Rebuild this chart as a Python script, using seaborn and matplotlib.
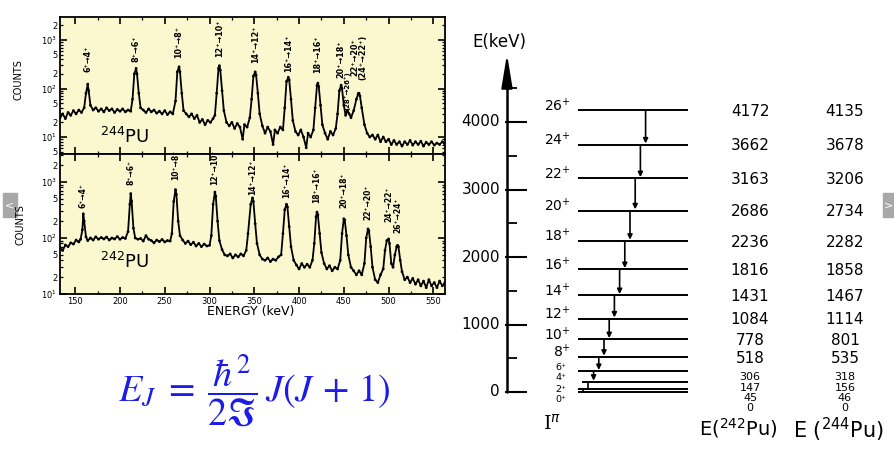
import numpy as np
import pandas as pd
import seaborn as sns
import matplotlib.pyplot as plt
from matplotlib.ticker import LogLocator, FuncFormatter, MultipleLocator
from matplotlib.patches import Rectangle

sns.set_style("ticks")
plt.rcParams["font.family"] = ["DejaVu Sans"]
plt.rcParams["text.color"] = "black"
plt.rcParams["axes.labelcolor"] = "black"
plt.rcParams["xtick.color"] = "black"
plt.rcParams["ytick.color"] = "black"
plt.rcParams["axes.edgecolor"] = "black"

# ---------------- data ----------------
# gamma spectrum of 244Pu (energy keV, counts)
spec244 = [
    (133, 25), (136, 30), (139, 24), (142, 32), (145, 28), (148, 35), (151, 30), (154, 36),
    (157, 32), (160, 40), (162, 80), (164, 123), (165, 90), (167, 45), (170, 36), (173, 40),
    (176, 34), (179, 38), (182, 33), (185, 40), (188, 35), (191, 38), (194, 32), (197, 37),
    (200, 34), (203, 38), (206, 33), (209, 36), (212, 34), (214, 60), (216, 200), (218, 260),
    (219, 200), (221, 80), (223, 40), (226, 36), (229, 32), (232, 38), (235, 33), (238, 36),
    (241, 31), (244, 34), (247, 30), (250, 35), (253, 29), (256, 33), (259, 30), (262, 55),
    (264, 220), (266, 280), (267, 220), (269, 80), (271, 35), (274, 30), (277, 26), (280, 30),
    (283, 24), (286, 28), (289, 20), (292, 23), (295, 18), (298, 22), (301, 20), (304, 24),
    (306, 28), (308, 80), (310, 260), (311, 295), (312, 240), (314, 90), (316, 35), (319, 20),
    (322, 17), (325, 20), (328, 15), (331, 19), (334, 16), (337, 9), (339, 18), (342, 16),
    (345, 25), (347, 60), (349, 180), (351, 220), (352, 190), (354, 80), (356, 30), (359, 17),
    (362, 12), (365, 16), (368, 13), (371, 7), (373, 14), (376, 12), (379, 16), (382, 14),
    (384, 40), (386, 140), (388, 170), (389, 150), (391, 60), (393, 22), (396, 13), (399, 11),
    (402, 14), (405, 10), (408, 6), (410, 12), (413, 10), (416, 14), (418, 40), (420, 115),
    (421, 129), (422, 110), (424, 45), (426, 18), (429, 12), (432, 9), (435, 13), (438, 11),
    (441, 15), (443, 30), (445, 90), (447, 117), (448, 100), (450, 45), (452, 28), (454, 35),
    (456, 30), (458, 25), (461, 35), (464, 60), (466, 78), (467, 80), (468, 70), (470, 40),
    (473, 18), (476, 12), (479, 10), (482, 11), (485, 9), (488, 11), (491, 8), (494, 10),
    (497, 8), (500, 9), (503, 7), (506, 8.5), (509, 7), (512, 8), (515, 6.5), (518, 8),
    (521, 7), (524, 8.5), (527, 6.8), (530, 8), (533, 7), (536, 8.2), (539, 6.5), (542, 7.8),
    (545, 7), (548, 8), (551, 6.8), (554, 7.5), (557, 7), (560, 8), (563, 7), (565, 7.5),
]

# gamma spectrum of 242Pu (energy keV, counts)
spec242 = [
    (133, 68), (136, 60), (139, 75), (142, 70), (145, 82), (148, 78), (151, 92), (154, 85),
    (156, 95), (158, 140), (159, 270), (160, 200), (162, 105), (164, 90), (167, 100), (170, 92),
    (173, 105), (176, 95), (179, 102), (182, 96), (185, 104), (188, 92), (191, 100), (194, 96),
    (197, 106), (200, 95), (203, 102), (206, 98), (209, 130), (211, 400), (212, 620), (213, 450),
    (215, 150), (217, 100), (220, 95), (223, 98), (226, 88), (229, 110), (232, 95), (235, 90),
    (238, 82), (241, 92), (244, 86), (247, 94), (250, 85), (253, 90), (256, 88), (258, 120),
    (260, 450), (262, 730), (263, 600), (265, 200), (267, 110), (270, 92), (273, 80), (276, 88),
    (279, 76), (282, 84), (285, 72), (288, 80), (291, 70), (294, 78), (297, 72), (300, 74),
    (302, 110), (304, 400), (306, 660), (307, 560), (309, 200), (311, 90), (314, 62), (317, 50),
    (320, 48), (323, 52), (326, 44), (329, 50), (332, 46), (335, 52), (338, 48), (341, 60),
    (343, 120), (346, 400), (348, 520), (349, 450), (351, 180), (353, 80), (356, 50), (359, 42),
    (362, 40), (365, 44), (368, 38), (371, 42), (374, 40), (377, 46), (380, 50), (382, 120),
    (384, 320), (386, 400), (387, 360), (389, 160), (391, 70), (394, 40), (397, 33), (400, 28),
    (403, 35), (406, 30), (409, 34), (412, 30), (415, 40), (417, 80), (419, 240), (420, 290),
    (421, 260), (423, 120), (425, 55), (428, 35), (431, 28), (434, 32), (437, 26), (440, 30),
    (443, 28), (446, 40), (448, 120), (450, 220), (451, 210), (453, 110), (455, 50), (458, 30),
    (461, 26), (464, 22), (467, 26), (470, 22), (473, 35), (475, 100), (477, 145), (478, 135),
    (480, 70), (482, 30), (485, 18), (488, 16), (491, 22), (494, 28), (496, 60), (498, 90),
    (500, 96), (501, 80), (503, 35), (505, 30), (507, 50), (509, 70), (510, 74), (511, 70),
    (513, 40), (515, 25), (518, 18), (521, 20), (524, 16), (527, 19), (530, 15), (533, 18),
    (536, 14), (539, 17), (542, 13), (545, 18), (548, 14), (551, 16), (554, 13), (557, 17),
    (560, 14), (563, 16), (565, 13),
]

peaks244_e = [164, 218, 266, 311, 351, 388, 421, 447, 454, 467]
labels244 = ["6⁺→4⁺", "8⁺→6⁺", "10⁺→8⁺", "12⁺→10⁺", "14⁺→12⁺", "16⁺→14⁺",
             "18⁺→16⁺", "20⁺→18⁺", "(28⁺→26⁺)", "22⁺→20⁺\n(24⁺→22⁺)"]

peaks242_e = [159, 212, 262, 306, 348, 386, 420, 450, 477, 500, 510]
labels242 = ["6⁺→4⁺", "8⁺→6⁺", "10⁺→8⁺", "12⁺→10⁺", "14⁺→12⁺", "16⁺→14⁺",
             "18⁺→16⁺", "20⁺→18⁺", "22⁺→20⁺", "24⁺→22⁺", "26⁺→24⁺"]

energy_ticks = [150, 200, 250, 300, 350, 400, 450, 500, 550]

# rotational band levels
spins = [0, 2, 4, 6, 8, 10, 12, 14, 16, 18, 20, 22, 24, 26]
levels242 = [0, 45, 147, 306, 518, 778, 1084, 1431, 1816, 2236, 2686, 3163, 3662, 4172]
levels244 = [0, 46, 156, 318, 535, 801, 1114, 1467, 1858, 2282, 2734, 3206, 3678, 4135]
scale_ticks = [0, 1000, 2000, 3000, 4000]
scale_minor = [500, 1500, 2500, 3500, 4500]

# ---------------- layout (pixels of the 895x449 canvas) ----------------
W, H = 895, 449
def fx(x): return x / W
def fy(y): return 1 - y / H
def e_of_px(y): return (392 - y) / 0.0675

# bottom edge (pixel row) of each peak label
label_px244 = [72, 62, 58, 57, 63, 72, 73, 78, 110, 80]
label_px242 = [208, 185, 180, 185, 195, 198, 203, 208, 220, 222, 233]
def counts_top(y): return 10 ** (3 - (y - 40) / 48.5)
def counts_bot(y): return 10 ** (3 - (y - 182) / 56)

fig = plt.figure(figsize=(8.95, 4.49), dpi=100)
fig.patch.set_facecolor("white")

def yfmt(v, pos):
    ex = np.log10(v)
    if abs(ex - round(ex)) < 1e-6:
        return "10$^{%d}$" % round(ex)
    m = int(round(v / 10 ** np.floor(ex)))
    return str(m) if m in (2, 5) else ""

def spectrum_axes(rect, df, ylim, show_x):
    ax = fig.add_axes(rect)
    ax.set_facecolor("#fbf8d0")
    sns.lineplot(data=df, x="energy", y="counts", ax=ax, color="black", lw=1.3)
    sns.scatterplot(data=df, x="energy", y="counts", ax=ax, color="black", s=4,
                    edgecolor="none")
    ax.set_yscale("log")
    ax.set_xlim(133, 563)
    ax.set_ylim(*ylim)
    ax.yaxis.set_major_locator(LogLocator(base=10))
    ax.yaxis.set_minor_locator(LogLocator(base=10, subs=range(2, 10)))
    ax.yaxis.set_major_formatter(FuncFormatter(yfmt))
    ax.yaxis.set_minor_formatter(FuncFormatter(yfmt))
    ax.xaxis.set_minor_locator(MultipleLocator(25))
    ax.set_xticks(energy_ticks)
    ax.tick_params(which="both", direction="in", top=True, right=True, labelsize=6,
                   pad=2)
    ax.tick_params(which="major", length=5, width=1.2)
    ax.tick_params(which="minor", length=2.5, width=0.9)
    if not show_x:
        ax.tick_params(labelbottom=False)
    ax.set_xlabel("")
    ax.set_ylabel("")
    for s in ax.spines.values():
        s.set_linewidth(1.3)
    return ax

df244 = pd.DataFrame(spec244, columns=["energy", "counts"])
df242 = pd.DataFrame(spec242, columns=["energy", "counts"])

ax1 = spectrum_axes([fx(60), fy(154), fx(385), 137 / H], df244,
                    (counts_top(154), counts_top(17)), False)
ax2 = spectrum_axes([fx(60), fy(294), fx(385), 140 / H], df242,
                    (counts_bot(294), counts_bot(154)), True)

for e, y, lab in zip(peaks244_e, label_px244, labels244):
    small = lab.startswith("(")
    ax1.text(e, counts_top(y), lab, rotation=90, ha="center", va="bottom",
             fontsize=5 if small else 5.8, fontweight="bold", linespacing=0.95)
for e, y, lab in zip(peaks242_e, label_px242, labels242):
    ax2.text(e, counts_bot(y), lab, rotation=90, ha="center", va="bottom",
             fontsize=5.5, fontweight="bold")

ax1.text(178, counts_top(147), "$^{244}$PU", fontsize=13, va="bottom", ha="left")
ax2.text(178, counts_bot(272), "$^{242}$PU", fontsize=13, va="bottom", ha="left")

fig.text(fx(19), fy(80), "COUNTS", rotation=90, ha="center", va="center", fontsize=7)
fig.text(fx(21), fy(225), "COUNTS", rotation=90, ha="center", va="center", fontsize=7)
fig.text(fx(251), fy(312), "ENERGY (keV)", ha="center", va="center", fontsize=9)

# formula
fig.text(fx(254), fy(391), r"$E_J\;=\;\dfrac{\hbar^2}{2\Im}\,J(J\,+\,1)$", ha="center",
         va="center", fontsize=27.5, color="#1c1ce8", math_fontfamily="stix")

# ---------------- level scheme ----------------
ax3 = fig.add_axes([fx(450), 0, 445 / W, 1])
ax3.set_xlim(450, 895)
ax3.set_ylim(e_of_px(449), e_of_px(0))
ax3.axis("off")

ax3.plot([507, 507], [0, e_of_px(75)], color="black", lw=1.8)
ax3.annotate("", xy=(507, e_of_px(54)), xytext=(507, e_of_px(82)),
             arrowprops=dict(arrowstyle="-|>,head_length=1.7,head_width=0.28",
                             mutation_scale=12, color="black", lw=1.5,
                             shrinkA=0, shrinkB=0))
ax3.hlines(scale_ticks, 505, 527, color="black", lw=1.5)
ax3.hlines(scale_minor, 507, 517, color="black", lw=1.3)
for t in scale_ticks:
    ax3.text(500, t, str(t), ha="right", va="center", fontsize=11)
ax3.text(499, e_of_px(42), "E(keV)", ha="center", va="center", fontsize=12)

low_spin_px = {0: 400, 2: 389, 4: 378, 6: 367}
low_value_px = {0: 408, 2: 398, 4: 388, 6: 377}
for s, l242, l244 in zip(spins, levels242, levels244):
    x0 = 582 if s == 4 else 578
    ax3.hlines(l242, x0, 688, color="black", lw=1.4)
    ypx = 392 - l242 * 0.0675
    spy = low_spin_px.get(s, ypx - 5)
    vpy = low_value_px.get(s, ypx + 1)
    low = s in low_value_px
    if low:
        ax3.text(566, e_of_px(spy), f"{s}⁺", ha="right", va="center", fontsize=6.8)
    else:
        ax3.text(571, e_of_px(spy), f"{s}$^{{+}}$", ha="right", va="center",
                 fontsize=10)
    ax3.text(750, e_of_px(vpy), str(l242), ha="center", va="center",
             fontsize=8 if low else 11)
    ax3.text(845, e_of_px(vpy), str(l244), ha="center", va="center",
             fontsize=8 if low else 11)

for i in range(1, len(spins)):
    x = 578 + spins[i] * 2.6
    if spins[i] >= 6:
        ax3.annotate("", xy=(x, levels242[i - 1]), xytext=(x, levels242[i]),
                     arrowprops=dict(arrowstyle="-|>", mutation_scale=7,
                                     color="black", lw=1.2, shrinkA=0, shrinkB=1))
    else:
        ax3.plot([x, x], [levels242[i - 1], levels242[i]], color="black", lw=1.2)

ax3.text(552, e_of_px(424), r"I$^{\pi}$", ha="center", va="center", fontsize=14,
         family="DejaVu Serif")
ax3.text(738, e_of_px(428), "E($^{242}$Pu)", ha="center", va="center", fontsize=14)
ax3.text(838, e_of_px(430), "E ($^{244}$Pu)", ha="center", va="center", fontsize=15)

# slide navigation buttons
fig.patches.append(Rectangle((fx(3), fy(217)), 14 / W, 24 / H, transform=fig.transFigure,
                             color="#a8a8a8", zorder=0))
fig.patches.append(Rectangle((fx(883), fy(217)), 12 / W, 24 / H,
                             transform=fig.transFigure, color="#a8a8a8", zorder=0))
fig.text(fx(10), fy(205), "<", color="white", ha="center", va="center", fontsize=8)
fig.text(fx(889), fy(205), ">", color="white", ha="center", va="center", fontsize=8)

fig.savefig("out.png", dpi=100)
